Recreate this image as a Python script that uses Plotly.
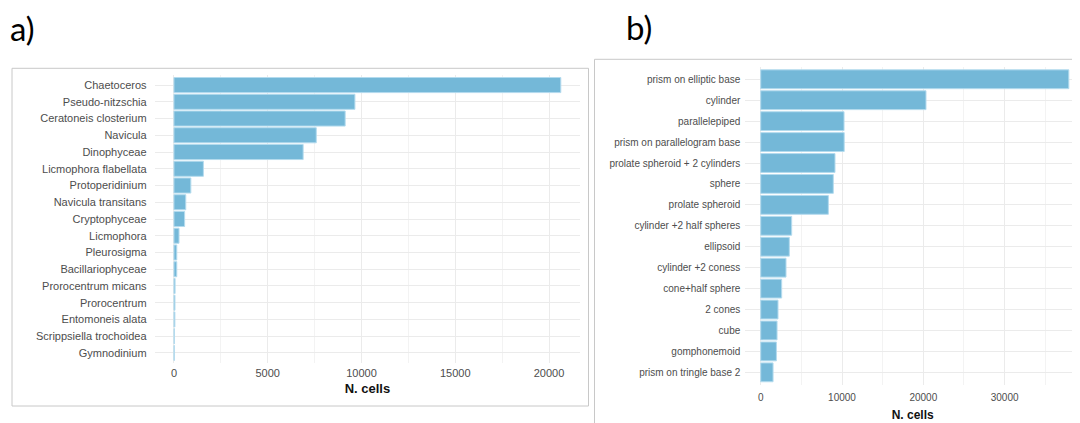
import plotly.graph_objects as go

# The page body has an 8px margin, so the figure is made 8px smaller and
# all layout positions (given in window pixels) are shifted by 8px.
OX, OY = 8, 8
FW, FH = 1072, 415

# ---- data ----
taxa = ["Chaetoceros", "Pseudo-nitzschia", "Ceratoneis closterium", "Navicula",
        "Dinophyceae", "Licmophora flabellata", "Protoperidinium",
        "Navicula transitans", "Cryptophyceae", "Licmophora", "Pleurosigma",
        "Bacillariophyceae", "Prorocentrum micans", "Prorocentrum",
        "Entomoneis alata", "Scrippsiella trochoidea", "Gymnodinium"]
cells_a = [20630, 9650, 9130, 7590, 6890, 1570, 900, 630, 570, 270, 150,
           150, 60, 55, 50, 30, 20]

shapes_b = ["prism on elliptic base", "cylinder", "parallelepiped",
            "prism on parallelogram base", "prolate spheroid + 2 cylinders",
            "sphere", "prolate spheroid", "cylinder +2 half spheres",
            "ellipsoid", "cylinder +2 coness", "cone+half sphere", "2 cones",
            "cube", "gomphonemoid", "prism on tringle base 2"]
cells_b = [37900, 20330, 10250, 10270, 9140, 8930, 8320, 3810, 3520, 3115,
           2580, 2130, 2010, 1930, 1520]

ticks_a = [0, 5000, 10000, 15000, 20000]
ticks_b = [0, 10000, 20000, 30000]
ticklabels_a = ["0", "5000", "10000", "15000", "20000"]
ticklabels_b = ["0", "10000", "20000", "30000"]

BAR = "#74b8d8"
EDGE = "#b4dbee"
GRID = "#ebebeb"
MINOR = "#f3f3f3"
FONT = "Liberation Sans, Arial, sans-serif"
TICKFONT_A = dict(family=FONT, size=11, color="#4d4d4d")
TICKFONT_B = dict(family=FONT, size=10, color="#4d4d4d")
TITLEFONT_A = dict(family=FONT, size=13, color="#111111", weight="bold")
TITLEFONT_B = dict(family=FONT, size=12, color="#111111", weight="bold")


def px(x):
    return (x - OX) / FW


def py(y):
    return 1 - (y - OY) / FH


fig = go.Figure()
fig.add_trace(go.Bar(x=cells_a, y=taxa, orientation="h", xaxis="x", yaxis="y",
                     width=0.9, marker=dict(color=BAR, line=dict(color=EDGE, width=1)),
                     showlegend=False))
fig.add_trace(go.Bar(x=cells_b, y=shapes_b, orientation="h", xaxis="x2", yaxis="y2",
                     width=0.9, marker=dict(color=BAR, line=dict(color=EDGE, width=1)),
                     showlegend=False))

na, nb = len(taxa), len(shapes_b)

fig.update_layout(
    width=FW, height=FH,
    margin=dict(l=0, r=0, t=0, b=0),
    paper_bgcolor="white", plot_bgcolor="white",
    xaxis=dict(domain=[px(154.6), px(580.2)], anchor="y", range=[-1032, 21664],
               tickvals=ticks_a, ticktext=ticklabels_a,
               showgrid=True, gridcolor=GRID, gridwidth=1,
               minor=dict(dtick=2500, tick0=0, showgrid=True, gridcolor=MINOR, gridwidth=1),
               zeroline=False, showline=False, ticks="", tickfont=TICKFONT_A,
               ticklabelstandoff=2,
               title=dict(text="N. cells", font=TITLEFONT_A, standoff=5)),
    yaxis=dict(domain=[py(363), py(75)], anchor="x", type="category",
               categoryorder="array", categoryarray=taxa,
               range=[na - 1 + 0.6, -0.6], showgrid=True, gridcolor=GRID,
               zeroline=False, showline=False, ticks="", tickfont=TICKFONT_A,
               ticklabelstandoff=7),
    xaxis2=dict(domain=[px(745.3), 1.0], anchor="y2", range=[-1895, 39274],
                tickvals=ticks_b, ticktext=ticklabels_b,
                showgrid=True, gridcolor=GRID, gridwidth=1,
                minor=dict(dtick=5000, tick0=0, showgrid=True, gridcolor=MINOR, gridwidth=1),
                zeroline=False, showline=False, ticks="", tickfont=TICKFONT_B,
                ticklabelstandoff=5,
                title=dict(text="N. cells", font=TITLEFONT_B, standoff=8)),
    yaxis2=dict(domain=[py(384.9), py(66.7)], anchor="x2", type="category",
                categoryorder="array", categoryarray=shapes_b,
                range=[nb - 1 + 0.6, -0.6], showgrid=True, gridcolor=GRID,
                zeroline=False, showline=False, ticks="", tickfont=TICKFONT_B,
                ticklabelstandoff=4),
    shapes=[
        dict(type="rect", xref="paper", yref="paper", x0=px(12), x1=px(588.5),
             y0=py(406), y1=py(68.3), line=dict(color="#c8c8c8", width=1),
             fillcolor="rgba(0,0,0,0)", layer="below"),
        dict(type="rect", xref="paper", yref="paper", x0=px(594.5), x1=px(1090),
             y0=py(430), y1=py(59.3), line=dict(color="#c8c8c8", width=1),
             fillcolor="rgba(0,0,0,0)", layer="below"),
    ],
    annotations=[
        dict(text="a)", xref="paper", yref="paper", x=px(8), y=py(28), xanchor="left",
             yanchor="middle", showarrow=False,
             font=dict(family="Lato, Open Sans, sans-serif", size=33, color="#000000")),
        dict(text="b)", xref="paper", yref="paper", x=px(624), y=py(27), xanchor="left",
             yanchor="middle", showarrow=False,
             font=dict(family="Lato, Open Sans, sans-serif", size=33, color="#000000")),
    ],
)

fig.write_html("out.html")
